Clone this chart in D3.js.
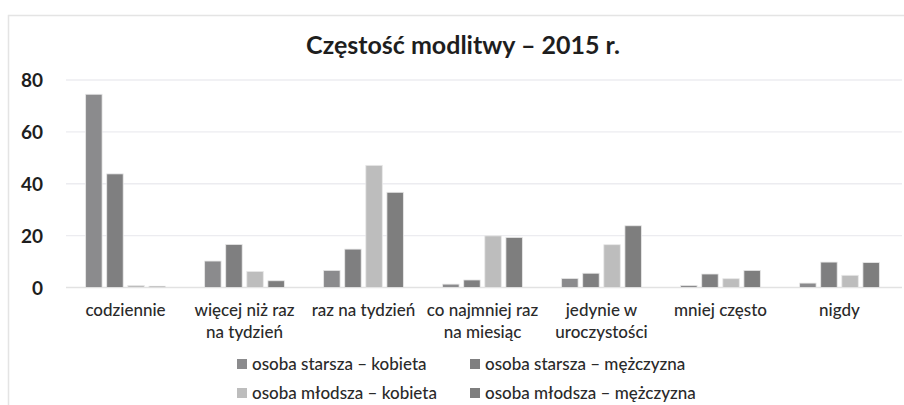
<!DOCTYPE html>
<html><head><meta charset="utf-8">
<script src="https://cdn.jsdelivr.net/npm/d3@7"></script>
<style>
html,body{margin:0;padding:0;background:#fff;}
svg{display:block;}
</style></head>
<body>
<svg id="chart" width="904" height="405"></svg>
<script>
const title = "Częstość modlitwy – 2015 r.";
const categories = [["codziennie"],["więcej niż raz","na tydzień"],["raz na tydzień"],["co najmniej raz","na miesiąc"],["jedynie w","uroczystości"],["mniej często"],["nigdy"]];
const seriesNames = ["osoba starsza – kobieta","osoba starsza – mężczyzna","osoba młodsza – kobieta","osoba młodsza – mężczyzna"];
const starszaKobieta   = [74.5, 10.2, 6.6, 1.3, 3.5, 0.8, 1.7];
const starszaMezczyzna = [43.8, 16.6, 14.8, 2.9, 5.5, 5.2, 9.8];
const mlodszaKobieta   = [0.8, 6.2, 47.1, 19.9, 16.5, 3.4, 4.7];
const mlodszaMezczyzna = [0.5, 2.6, 36.7, 19.3, 23.8, 6.6, 9.6];
const yTicks = [0, 20, 40, 60, 80];
const colors = ["#8b8b8d", "#7f7f80", "#bdbdbd", "#7e7e7e"];
const series = [starszaKobieta, starszaMezczyzna, mlodszaKobieta, mlodszaMezczyzna];

const svg = d3.select("#chart");
const font = "Lato, 'Open Sans', sans-serif";

// outer frame
svg.append("path").attr("d","M8.5,405 V15.5 H904").attr("fill","none").attr("stroke","#e4e4e4").attr("stroke-width",1.5);

const plotL = 66, plotR = 899, plotT = 80, plotB = 287.5;
const x0 = d3.scaleBand().domain(d3.range(categories.length)).range([plotL, plotR]).paddingInner(0.33).paddingOuter(0.165);
const x1 = d3.scaleBand().domain(d3.range(series.length)).range([0, x0.bandwidth()]).paddingInner(0.22);
const y = d3.scaleLinear().domain([0, 80]).range([plotB, plotT]);

// gridlines
svg.append("g").selectAll("line").data(yTicks).join("line")
  .attr("x1", plotL).attr("x2", 902)
  .attr("y1", d => y(d)).attr("y2", d => y(d))
  .attr("stroke", d => d === 0 ? "#e2e2e2" : "#ececf0").attr("stroke-width", 1.3);

// y axis labels
const yAxis = d3.axisLeft(y).tickValues(yTicks).tickSize(0).tickPadding(0);
const ga = svg.append("g").attr("transform", "translate(43,0)").call(yAxis);
ga.select(".domain").remove();
ga.selectAll("text").attr("font-family", font).attr("font-weight", "bold").attr("font-size", 19).attr("fill", "#1e1e1e").attr("dy","0.36em");

// bars
const groups = svg.append("g").selectAll("g").data(categories).join("g")
  .attr("transform", (d, i) => `translate(${x0(i)},0)`);
groups.selectAll("rect").data((d, i) => series.map((s, j) => ({j, v: s[i]}))).join("rect")
  .attr("x", d => x1(d.j)).attr("width", x1.bandwidth())
  .attr("y", d => y(d.v)).attr("height", d => y(0) - y(d.v))
  .attr("fill", d => colors[d.j]).attr("stroke", "#e8e8e8").attr("stroke-width", 0.8);

// category labels
const lab = svg.append("g").selectAll("text").data(categories).join("text")
  .attr("x", (d, i) => x0(i) + x0.bandwidth() / 2).attr("y", 316)
  .attr("text-anchor", "middle").attr("font-family", font).attr("font-size", 17).attr("font-weight", 500).attr("fill", "#2a2a2a");
lab.selectAll("tspan").data(d => d).join("tspan")
  .attr("x", function(){ return this.parentNode.getAttribute("x"); })
  .attr("dy", (d, k) => k === 0 ? 0 : 22).text(d => d);

// title
svg.append("text").attr("x", 463).attr("y", 54).attr("text-anchor", "middle")
  .attr("font-family", font).attr("font-weight", "bold").attr("font-size", 25).attr("fill", "#1e1e1e").text(title);

// legend
const legPos = [[237, 364], [470, 364], [237, 393], [470, 393]];
const leg = svg.append("g").selectAll("g").data(seriesNames).join("g")
  .attr("transform", (d, i) => `translate(${legPos[i][0]},${legPos[i][1]})`);
leg.append("rect").attr("x", 0).attr("y", -5).attr("width", 10).attr("height", 10).attr("fill", (d, i) => colors[i]);
leg.append("text").attr("x", 15).attr("y", 0).attr("dy", "0.36em")
  .attr("font-family", font).attr("font-size", 17).attr("font-weight", 500).attr("fill", "#2a2a2a").text(d => d);
</script>
</body></html>
